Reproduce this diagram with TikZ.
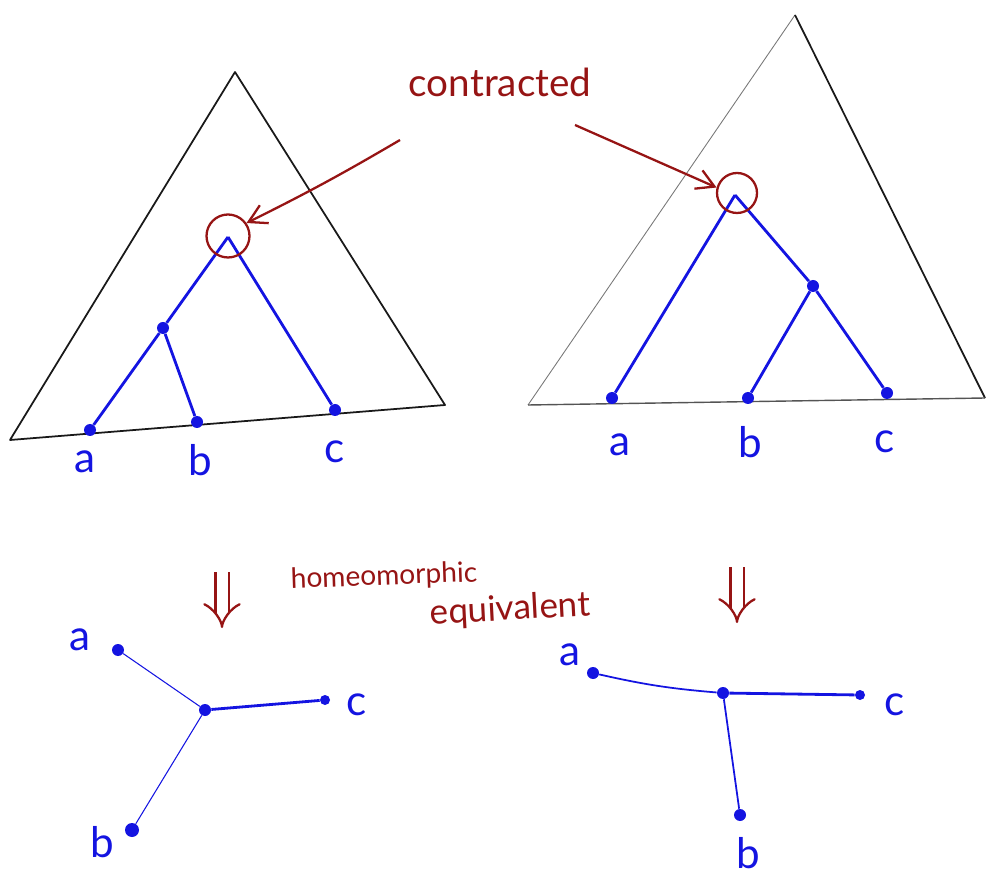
\documentclass[tikz,border=0pt]{standalone}
\usepackage{fontspec}
\setmainfont{Lato}
\usepackage{tikz}
\usetikzlibrary{
  arrows.meta,
  positioning
}
\definecolor{treecolor}{RGB}{20, 20, 225}
\definecolor{notecolor}{RGB}{150, 20, 20}
\definecolor{hullcolor}{RGB}{25, 25, 25}
\definecolor{thincolor}{RGB}{120, 120, 120}
\tikzset{
dot/.style={
  circle,
  fill=treecolor,
  inner sep=0pt,
  minimum size=2.4mm
},
leaflabel/.style={
  font=\fontsize{24}{26}\selectfont,
  text=treecolor
},
edge/.style={
  draw=treecolor,
  line width=1.6pt
},
thinedge/.style={
  draw=treecolor,
  line width=0.6pt
},
hull/.style={
  draw=hullcolor,
  line width=1pt,
  line join=round
},
contractring/.style={
  circle,
  draw=notecolor,
  line width=1.3pt,
  inner sep=0pt,
  minimum size=8.6mm
},
notetext/.style={
  text=notecolor,
  font=\fontsize{22}{24}\selectfont
},
notearrow/.style={
  -{Straight Barb[length=3.5mm,width=4mm]},
  line width=1.3pt,
  draw=notecolor
},
implies/.style={
  draw=notecolor,
  line width=1.3pt,
  double,
  double distance=2.2mm,
  -{Implies[length=4mm]}
}
}

\begin{document}
\begin{tikzpicture}[x=0.2mm, y=-0.2mm]
    \useasboundingbox (0,0) rectangle (987,882);

    % Left triangle
    \draw[hull] (235,72) -- (445,405) -- (10,440) -- cycle;
    % Right triangle
    \draw[hull, draw=thincolor, line width=0.5pt] (528,405) -- (795,15);
    \draw[hull] (795,15) -- (985,398);
    \draw[hull, draw=thincolor!70!black, line width=0.8pt] (528,405) -- (985,398);

    % Left rooted tree
    \coordinate (lroot) at (228,237);
    \node[dot] (lmid) at (163,328) {};
    \node[dot] (la) at (90,430) {};
    \node[dot] (lb) at (197,422) {};
    \node[dot] (lc) at (335,410) {};
    \draw[edge] (lroot) -- (lmid);
    \draw[edge] (lmid) -- (la);
    \draw[edge] (lmid) -- (lb);
    \draw[edge] (lroot) -- (lc);
    \node[leaflabel] (la-lab) at (85,462) {a};
    \node[leaflabel] (lb-lab) at (200,460) {b};
    \node[leaflabel] (lc-lab) at (335,452) {c};

    % Right rooted tree
    \coordinate (rroot) at (735,195);
    \node[dot] (rmid) at (813,286) {};
    \node[dot] (ra) at (612,398) {};
    \node[dot] (rb) at (748,398) {};
    \node[dot] (rc) at (887,393) {};
    \draw[edge] (rroot) -- (ra);
    \draw[edge] (rroot) -- (rmid);
    \draw[edge] (rmid) -- (rb);
    \draw[edge] (rmid) -- (rc);
    \node[leaflabel] (ra-lab) at (620,445) {a};
    \node[leaflabel] (rb-lab) at (750,442) {b};
    \node[leaflabel] (rc-lab) at (885,442) {c};

    % Contracted roots
    \node[contractring] (lring) at (228,236) {};
    \node[contractring, minimum size=8mm] (rring) at (737,193) {};
    \node[notetext] (contracted) at (500,82) {contracted};
    \coordinate (cleft) at (400,140);
    \coordinate (cright) at (575,125);
    \draw[notearrow] (cleft) to[bend left=2] (lring.35);
    \draw[notearrow] (cright) -- (rring.165);

    % Equivalence
    \coordinate (lsym-top) at (222,572);
    \coordinate (lsym-bot) at (222,628);
    \coordinate (rsym-top) at (737,567);
    \coordinate (rsym-bot) at (737,623);
    \draw[implies] (lsym-top) -- (lsym-bot);
    \draw[implies] (rsym-top) -- (rsym-bot);
    \node[notetext, font=\fontsize{16}{18}\selectfont, rotate=2] (homeo) at (384,577) {homeomorphic};
    \node[notetext, font=\fontsize{20}{22}\selectfont, rotate=3] (equiv) at (510,610) {equivalent};

    % Left unrooted tree
    \node[dot] (ula) at (118,650) {};
    \node[dot] (ulctr) at (205,710) {};
    \node[dot, minimum size=2mm] (ulc) at (325,700) {};
    \node[dot, minimum size=2.8mm] (ulb) at (132,830) {};
    \draw[thinedge] (ula) -- (ulctr);
    \draw[edge] (ulctr) -- (ulc);
    \draw[thinedge] (ulctr) -- (ulb);
    \node[leaflabel] (ula-lab) at (80,640) {a};
    \node[leaflabel] (ulc-lab) at (357,705) {c};
    \node[leaflabel] (ulb-lab) at (102,842) {b};

    % Right unrooted tree
    \node[dot] (ura) at (593,673) {};
    \node[dot] (urctr) at (723,693) {};
    \node[dot, minimum size=2mm] (urc) at (860,695) {};
    \node[dot] (urb) at (740,815) {};
    \draw[edge, line width=1pt] (ura) to[bend right=4] (urctr);
    \draw[edge] (urctr) -- (urc);
    \draw[edge, line width=1pt] (urctr) -- (urb);
    \node[leaflabel] (ura-lab) at (570,655) {a};
    \node[leaflabel] (urc-lab) at (895,705) {c};
    \node[leaflabel] (urb-lab) at (748,853) {b};

  \end{tikzpicture}
\end{document}
